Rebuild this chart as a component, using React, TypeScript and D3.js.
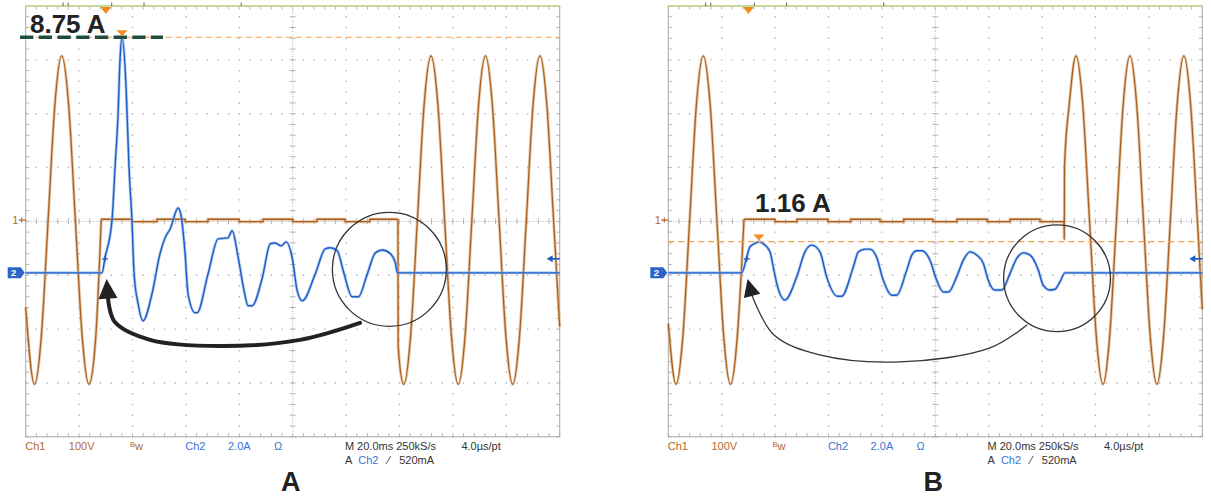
import React from 'react';
import * as d3 from 'd3';

type P = [number, number];

// ---- acquisition settings read from the scope readout ----
const TIME_SPAN = 200; // ms  (10 div x 20.0 ms)
const DIVS_X = 10;
const DIVS_Y = 8;
const VOLTS_PER_DIV = 100; // Ch1 100V
const AMPS_PER_DIV = 2; // Ch2 2.0A
const CH1_POSITION = 0.025; // div
const CH2_POSITION = -0.955; // div
const TRIGGER_LEVEL = 0.52; // A (520mA)
const TRIGGER_TIME = 30; // ms

const panelNames = ['A', 'B'];
const cursorValues = [8.75, 1.16];
const cursorLabels = ['8.75 A', '1.16 A'];
const peakTimes = [36.1, 33.9];
const triggerMarkTimes = [29.7, 29.4];
const topTickTimes = [14, 15.9, 32.2, 44.3, 80.7];

const readoutLine1 = ['Ch1', '100V', 'Bw', 'Ch2', '2.0A', 'Ω', 'M 20.0ms 250kS/s', '4.0µs/pt'];
const readoutLine2 = ['A', 'Ch2', '⁄', '520mA'];

// ---- Ch1 voltage (ms, V) ----
const ch1BeforeA: P[] = [
  [0, -162], [3.3, -305], [5.85, -216], [8.4, 0], [10.95, 216], [13.5, 305], [16.05, 216],
  [18.6, 0], [21.15, -216], [23.7, -305], [26.25, -216], [28.3, 1.5],
];
const ch1FlatA: P[] = [
  [28.3, 1.5], [39.8, -3], [49.2, 1.5], [59.7, -3], [68.3, 1.5], [79.9, -3], [88.9, 1.5],
  [100.1, -3], [109.1, 1.5], [119.6, -3], [128.9, 1.5], [139.4, 1.5],
];
const ch1AfterA: P[] = [
  [139.4, 1.5], [139.5, -235], [141.6, -305], [144.15, -216], [146.7, 0], [149.25, 216],
  [151.8, 305], [154.35, 216], [156.9, 0], [159.45, -216], [162.0, -305], [164.55, -216],
  [167.1, 0], [169.65, 216], [172.2, 305], [174.75, 216], [177.3, 0], [179.85, -216],
  [182.4, -305], [184.95, -216], [187.5, 0], [190.05, 216], [192.6, 305], [195.15, 216],
  [197.7, 0], [200, -198],
];
const ch1BeforeB: P[] = [
  [0, -192], [2.9, -305], [5.45, -216], [8.0, 0], [10.55, 216], [13.1, 305], [15.65, 216],
  [18.2, 0], [20.75, -216], [23.3, -305], [25.85, -216], [28.35, 1.5],
];
const ch1FlatB: P[] = [
  [28.35, 1.5], [39.95, -3], [48.2, 1.5], [59.8, -3], [68.4, 1.5], [79.3, -3], [88.2, 1.5],
  [99.1, -3], [108.1, 1.5], [119.4, -3], [128.0, 1.5], [139.2, -3], [148.2, -3],
];
const ch1AfterB: P[] = [
  [148.2, -3], [148.3, -35], [148.4, 100], [150.2, 216], [152.7, 305], [155.2, 216],
  [157.75, 0], [160.3, -216], [162.8, -305], [165.3, -216], [167.85, 0], [170.4, 216],
  [172.9, 305], [175.4, 216], [177.95, 0], [180.5, -216], [183.0, -305], [185.5, -216],
  [188.05, 0], [190.6, 216], [193.1, 305], [195.6, 216], [198.15, 0], [200, -166],
];

// ---- Ch2 current (ms, A) ----
const ch2A: P[] = [
  [0, 0], [28.6, 0], [29.7, 0.56], [32.3, 1.93], [33.45, 3.9], [34.6, 5.9], [35.3, 7.87],
  [36.1, 8.75], [37.6, 6.87], [38.7, 3.9], [39.8, 1.93], [40.6, -0.04], [42.1, -1.15],
  [43.95, -1.78], [47.3, -0.78], [50.3, 0.71], [52.2, 1.3], [54.1, 1.63], [57.1, 2.41],
  [58.2, 2.12], [59.7, 0.71], [60.8, -0.78], [63.45, -1.48], [64.2, -1.48], [68.3, -0.04],
  [72.1, 1.26], [75.8, 1.3], [77.3, 1.56], [79.6, 0.56], [81.8, -0.67], [83.3, -1.22],
  [84.8, -1.22], [88.6, -0.19], [91.6, 1.08], [93.45, 1.11], [95.7, 1.0], [97.6, 1.15],
  [99.8, 0.56], [101.7, -0.67], [103.6, -1.04], [108.45, -0.04], [112.2, 0.89],
  [114.1, 0.93], [116.7, 0.82], [118.95, 0.07], [122.3, -0.89], [124.6, -0.89],
  [127.95, -0.04], [130.95, 0.74], [133.6, 0.85], [136.6, 0.71], [138.45, 0.37],
  [139.2, 0], [200, 0],
];
const ch2B: P[] = [
  [0, 0], [27.5, 0], [29.4, 0.59], [30.6, 0.97], [33.1, 1.12], [34.0, 1.16], [35.0, 1.12],
  [38.1, 0.78], [39.3, 0.22], [40.6, -0.39], [43.7, -1.01], [48.1, -0.15], [51.2, 0.78],
  [53.7, 1.03], [56.8, 0.78], [59.3, -0.15], [63.3, -0.87], [64.9, -0.87], [69.3, 0.22],
  [71.2, 0.78], [73.7, 0.88], [75.5, 0.88], [78.0, 0.59], [80.5, -0.27], [83.7, -0.83],
  [85.5, -0.83], [89.3, 0.1], [91.2, 0.66], [93.0, 0.82], [94.9, 0.82], [98.0, 0.47],
  [100.5, -0.27], [103.0, -0.71], [104.9, -0.71], [108.0, -0.15], [110.5, 0.47],
  [113.0, 0.78], [115.5, 0.66], [118.0, 0.35], [119.8, -0.27], [122.3, -0.64],
  [124.9, -0.64], [128.0, -0.02], [130.5, 0.54], [133.0, 0.74], [135.5, 0.66],
  [138.6, 0.1], [140.4, -0.46], [142.9, -0.64], [144.8, -0.61], [146.7, -0.33],
  [148.6, 0], [200, 0],
];

// ---- annotations in data units (ms, A) ----
const circleCenters: P[] = [[136.2, 0.13], [145.6, -0.2]];
const circleRadiiDiv = [1.067, 1.0];
const arrowShafts: P[][] = [
  [[125.2, -1.86], [102.7, -2.49], [72.8, -2.72], [46.6, -2.49], [33.4, -1.83], [30.8, -0.92]],
  [[134.3, -1.94], [120.5, -2.79], [86.7, -3.31], [56.7, -3.05], [39.6, -2.31], [31.3, -0.82]],
];
const arrowTips: P[] = [[30.3, -0.23], [29.7, -0.23]];
const labelAnchors: P[] = [[1.6, 8.91], [32.5, 2.27]];
const greenCursorSpan: P = [-2.1, 51.4];

const ch1Data = [
  { before: ch1BeforeA, flat: ch1FlatA, after: ch1AfterA },
  { before: ch1BeforeB, flat: ch1FlatB, after: ch1AfterB },
];
const ch2Data = [ch2A, ch2B];

// ---- layout & style ----
const LAYOUT = { top: 6, width: 534, height: 430.8, lefts: [25.7, 668.3], line1: 450, line2: 464, title: 491 };
const line1Offsets = [-0.5, 43.1, 104.2, 159.6, 202.3, 248.2, 319.2, 435.7];
const line2Offsets = [319.3, 332.6, 362, 373.5];
const C = {
  ch1: '#a8611f', ch1Halo: '#deb48c', ch2: '#1b5cc6', ch2Halo: '#93b7ee',
  grid: '#b3b3b3', border: '#a9a9a9', topBorder: '#c6da9c', cursor: '#f5a24c',
  marker: '#f28c1e', green: '#1f4e3d', ink: '#222', lab1: '#b46a2c', lab2: '#3b74d6', readout: '#333',
};
const line1Colors = [C.lab1, C.lab1, C.lab1, C.lab2, C.lab2, C.lab2, C.readout, C.readout];
const line2Colors = [C.readout, C.lab2, C.readout, C.readout];
const FONT = '"Liberation Sans", Arial, sans-serif';

function Panel({ idx }: { idx: number }) {
  const left = LAYOUT.lefts[idx];
  const { top, width, height } = LAYOUT;
  const right = left + width;
  const bottom = top + height;
  const x = d3.scaleLinear().domain([0, TIME_SPAN]).range([left, right]);
  const yDiv = d3.scaleLinear().domain([-DIVS_Y / 2, DIVS_Y / 2]).range([bottom, top]);
  const y1 = (v: number) => yDiv(v / VOLTS_PER_DIV + CH1_POSITION);
  const y2 = (a: number) => yDiv(a / AMPS_PER_DIV + CH2_POSITION);
  const dx = width / DIVS_X;
  const dy = height / DIVS_Y;
  const cx = left + dx * (DIVS_X / 2);
  const cy = top + dy * (DIVS_Y / 2);

  const smooth1 = d3.line<P>().x(d => x(d[0])).y(d => y1(d[1])).curve(d3.curveMonotoneX);
  const step1 = d3.line<P>().x(d => x(d[0])).y(d => y1(d[1])).curve(d3.curveStepAfter);
  const smooth2 = d3.line<P>().x(d => x(d[0])).y(d => y2(d[1])).curve(d3.curveMonotoneX);
  const arrowLine = d3.line<P>().x(d => x(d[0])).y(d => y2(d[1])).curve(d3.curveCatmullRom.alpha(0.5));

  // grid dots
  const minorX = d3.range(0, DIVS_X * 5 + 1).map(j => left + (j * dx) / 5);
  const minorY = d3.range(0, DIVS_Y * 5 + 1).map(j => top + (j * dy) / 5);
  let dots = '';
  d3.range(1, DIVS_X).filter(k => k !== DIVS_X / 2).forEach(k => {
    const gx = left + k * dx;
    minorY.forEach(gy => { dots += `M${gx - 0.7},${gy - 0.7}h1.4v1.4h-1.4Z`; });
  });
  d3.range(1, DIVS_Y).filter(k => k !== DIVS_Y / 2).forEach(k => {
    const gy = top + k * dy;
    minorX.forEach(gx => { dots += `M${gx - 0.7},${gy - 0.7}h1.4v1.4h-1.4Z`; });
  });
  let ticks = '';
  minorY.forEach(gy => {
    ticks += `M${left},${gy}h3.5M${right},${gy}h-3.5M${cx - 3},${gy}h6`;
  });
  minorX.forEach(gx => {
    ticks += `M${gx},${top}v3.5M${gx},${bottom}v-3.5M${gx},${cy - 3}v6`;
  });

  const d1 = ch1Data[idx];
  const cursorY = y2(cursorValues[idx]);
  const trigY = y2(TRIGGER_LEVEL);
  const ch1Y = y1(0);
  const ch2Y = y2(0);

  // arrow head
  const shaft = arrowShafts[idx];
  const last = shaft[shaft.length - 1];
  const tip: P = [x(arrowTips[idx][0]), y2(arrowTips[idx][1])];
  const sp: P = [x(last[0]), y2(last[1])];
  const ux0 = tip[0] - sp[0];
  const uy0 = tip[1] - sp[1];
  const ul = Math.hypot(ux0, uy0);
  const ux = ux0 / ul;
  const uy = uy0 / ul;
  const headLen = idx === 0 ? ul + 1 : ul + 1;
  const hw = idx === 0 ? 9.5 : 8.5;
  const bx = tip[0] - ux * headLen;
  const by = tip[1] - uy * headLen;
  const head = `M${tip[0]},${tip[1]}L${bx - uy * hw},${by + ux * hw}L${bx + uy * hw},${by - ux * hw}Z`;

  const peakX = x(peakTimes[idx]);
  const trigTopX = x(TRIGGER_TIME);
  const tmx = x(triggerMarkTimes[idx]);

  const traces1 = [
    smooth1(d1.before) || '',
    step1(d1.flat) || '',
    smooth1(d1.after) || '',
  ];
  const trace2 = smooth2(ch2Data[idx]) || '';

  return (
    <g>
      {/* graticule */}
      <path d={dots} fill={C.grid} />
      <line x1={left} x2={right} y1={cy} y2={cy} stroke={C.grid} strokeWidth={1} strokeDasharray="1 1.5" />
      <line x1={cx} x2={cx} y1={top} y2={bottom} stroke={C.grid} strokeWidth={1} strokeDasharray="1 1.5" />
      <path d={ticks} stroke={C.grid} strokeWidth={1} fill="none" />
      <rect x={left} y={top} width={width} height={height} fill="none" stroke={C.border} strokeWidth={1} />
      <line x1={left} x2={right} y1={top} y2={top} stroke={C.topBorder} strokeWidth={2} />
      {topTickTimes.map((t, i) => (
        <line key={i} x1={x(t)} x2={x(t)} y1={top - 3.5} y2={top} stroke="#666" strokeWidth={1} />
      ))}

      {/* Ch1 trace */}
      {traces1.map((d, i) => (
        <path key={'h' + i} d={d} fill="none" stroke={C.ch1Halo} strokeWidth={3} strokeOpacity={0.75} />
      ))}
      {traces1.map((d, i) => (
        <path key={'c' + i} d={d} fill="none" stroke={C.ch1} strokeWidth={1.3} />
      ))}

      {/* Ch2 trace */}
      <path d={trace2} fill="none" stroke={C.ch2Halo} strokeWidth={3} strokeOpacity={0.7} />
      <path d={trace2} fill="none" stroke={C.ch2} strokeWidth={1.4} />

      {/* trigger point mark on trace */}
      <path d={`M${tmx - 3},${trigY}h6M${tmx},${trigY - 3}v6`} stroke={C.ch2} strokeWidth={1.4} />

      {/* cursor */}
      <line x1={left} x2={right} y1={cursorY} y2={cursorY} stroke={C.cursor} strokeWidth={1.1} strokeDasharray="6 4" />
      {idx === 0 && (
        <line x1={x(greenCursorSpan[0])} x2={x(greenCursorSpan[1])} y1={cursorY} y2={cursorY}
          stroke={C.green} strokeWidth={3.6} strokeDasharray="13.3 5.4" />
      )}
      <path d={`M${peakX - 5.5},${cursorY - 7}L${peakX + 5.5},${cursorY - 7}L${peakX},${cursorY - 1}Z`} fill={C.marker} />
      <path d={`M${trigTopX - 5.5},${top + 1}L${trigTopX + 5.5},${top + 1}L${trigTopX},${top + 8}Z`} fill={C.marker} />

      {/* channel markers */}
      <text x={left - 13.5} y={ch1Y + 4} fontFamily={FONT} fontSize={11} fill={C.lab1}>1</text>
      <path d={`M${left - 7},${ch1Y}H${left}M${left - 4},${ch1Y - 2.5}v5`} stroke={C.lab1} strokeWidth={1.2} />
      <path d={`M${left - 18},${ch2Y - 5.5}H${left - 5}L${left - 1},${ch2Y}L${left - 5},${ch2Y + 5.5}H${left - 18}Z`} fill="#2d64c8" />
      <text x={left - 12} y={ch2Y + 3.5} fontFamily={FONT} fontSize={9.5} fontWeight="bold" fill="#fff" textAnchor="middle">2</text>
      <path d={`M${right - 8},${trigY}H${right}`} stroke={C.ch2} strokeWidth={1.6} />
      <path d={`M${right - 13},${trigY}L${right - 7},${trigY - 3.5}L${right - 7},${trigY + 3.5}Z`} fill={C.ch2} />

      {/* annotation circle and arrow */}
      <circle cx={x(circleCenters[idx][0])} cy={y2(circleCenters[idx][1])} r={circleRadiiDiv[idx] * dx}
        fill="none" stroke="#333" strokeWidth={1.3} />
      <path d={arrowLine(shaft) || ''} fill="none" stroke={idx === 0 ? '#222' : '#333'}
        strokeWidth={idx === 0 ? 4 : 1.3} strokeLinecap="round" />
      <path d={head} fill="#222" />

      {/* cursor value label */}
      <text x={x(labelAnchors[idx][0])} y={y2(labelAnchors[idx][1])} fontFamily={FONT} fontSize={26}
        fontWeight="bold" fill={C.ink}>{cursorLabels[idx]}</text>

      {/* readout */}
      {readoutLine1.map((s, i) => (
        <text key={'r1' + i} x={left + line1Offsets[i]} y={LAYOUT.line1} fontFamily={FONT} fontSize={11}
          fill={line1Colors[i]}>
          {s === 'Bw' ? (<><tspan fontSize={7.5} dy={-3}>B</tspan><tspan dy={3}>w</tspan></>) : s}
        </text>
      ))}
      {readoutLine2.map((s, i) => (
        <text key={'r2' + i} x={left + line2Offsets[i]} y={LAYOUT.line2} fontFamily={FONT} fontSize={11}
          fill={line2Colors[i]}>{s}</text>
      ))}
      <text x={left + width / 2 - 2} y={LAYOUT.title} fontFamily={FONT} fontSize={27} fontWeight="bold"
        fill={C.ink} textAnchor="middle">{panelNames[idx]}</text>
    </g>
  );
}

export default function App() {
  return (
    <svg width={1211} height={500} viewBox="0 0 1211 500"
      style={{ position: 'absolute', left: 0, top: 0, display: 'block', background: '#fff' }}>
      <rect x={0} y={0} width={1211} height={500} fill="#fff" />
      <Panel idx={0} />
      <Panel idx={1} />
    </svg>
  );
}
